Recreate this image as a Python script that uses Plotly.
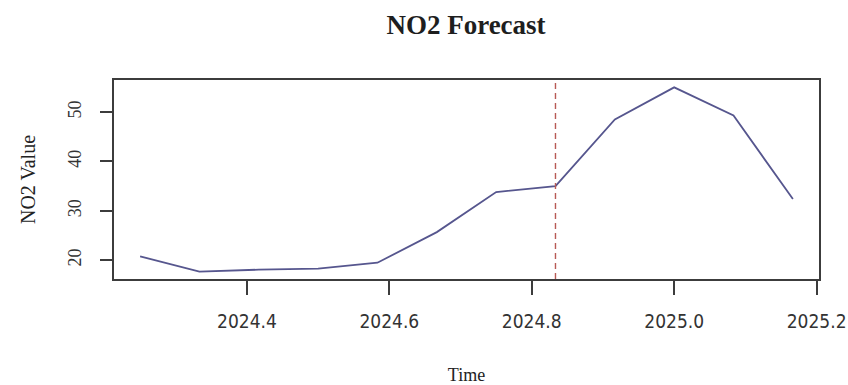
import plotly.graph_objects as go

# Monthly NO2 series (observed + forecast), time in decimal years
time = [2024.25, 2024.3333, 2024.4167, 2024.5, 2024.5833, 2024.6667,
        2024.75, 2024.8333, 2024.9167, 2025.0, 2025.0833, 2025.1667]
no2 = [20.8, 17.7, 18.1, 18.3, 19.5, 25.7, 33.8, 35.0, 48.5, 55.0, 49.3, 32.4]

forecast_start = 2024.8333
x_ticks = [2024.4, 2024.6, 2024.8, 2025.0, 2025.2]
x_tick_text = ["2024.4", "2024.6", "2024.8", "2025.0", "2025.2"]
y_ticks = [20, 30, 40, 50]

serif = "Liberation Serif, Times New Roman, serif"
narrow = "DejaVu Sans Condensed, Liberation Sans Narrow, Liberation Sans, sans-serif"
axis_col = "#3c3c3c"

fig = go.Figure()
fig.add_trace(go.Scatter(
    x=time, y=no2, mode="lines",
    line=dict(color="#56568e", width=1.8),
    showlegend=False, hoverinfo="skip",
))

# forecast origin marker
fig.add_shape(
    type="line", xref="x", yref="paper",
    x0=forecast_start, x1=forecast_start, y0=0, y1=1,
    line=dict(color="#b85a55", width=1.4, dash="6px,4px"),
)

x_span = time[-1] - time[0]
y_span = max(no2) - min(no2)

fig.update_layout(
    width=848, height=385,
    margin=dict(l=114, r=29, t=80, b=106),
    paper_bgcolor="white", plot_bgcolor="white",
    title=dict(
        text="<b>NO2 Forecast</b>", x=466 / 848, xanchor="center",
        y=1 - 25 / 385, yanchor="middle", xref="container", yref="container",
        font=dict(family=serif, size=27, color="#1e1e1e"),
    ),
    xaxis=dict(
        range=[time[0] - 0.04 * x_span, time[-1] + 0.04 * x_span],
        tickmode="array", tickvals=x_ticks, ticktext=x_tick_text,
        ticks="outside", ticklen=14, tickwidth=1.5, tickcolor=axis_col,
        ticklabelstandoff=10, automargin=False,
        showline=True, linecolor=axis_col, linewidth=1.8, mirror=True,
        showgrid=False, zeroline=False,
        tickfont=dict(family=narrow, size=19, color="#333333"),
        title=dict(text="Time", standoff=38,
                   font=dict(family=serif, size=18, color="#222222")),
    ),
    yaxis=dict(
        range=[min(no2) - 0.04 * y_span, max(no2) + 0.04 * y_span],
        tickmode="array", tickvals=y_ticks, tickangle=-90,
        ticks="outside", ticklen=12, tickwidth=1.5, tickcolor=axis_col,
        ticklabelstandoff=12, automargin=False,
        showline=True, linecolor=axis_col, linewidth=1.8, mirror=True,
        showgrid=False, zeroline=False,
        tickfont=dict(family=serif, size=18, color="#333333"),
        title=dict(text="NO2 Value", standoff=24,
                   font=dict(family=serif, size=20, color="#222222")),
    ),
)

fig.write_html("out.html")
